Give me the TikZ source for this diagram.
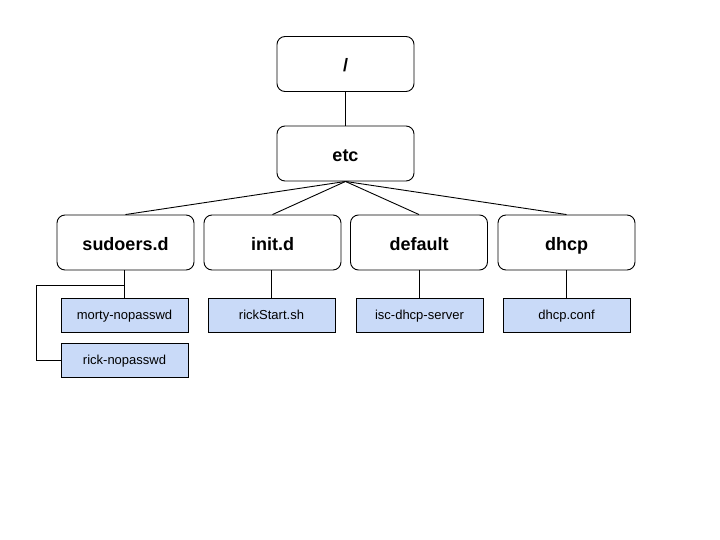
\documentclass[tikz,border=0pt]{standalone}
\usepackage{fontspec}
\setmainfont{Liberation Sans}
\definecolor{leafblue}{HTML}{C9DAF8}
\begin{document}
\begin{tikzpicture}[x=1pt,y=-1pt,
  dirbox/.style={draw=black,line width=0.9pt,rounded corners=8pt,fill=white,minimum width=137pt,minimum height=55pt,inner sep=0pt,text height=16pt,text depth=0.5pt,font=\fontsize{18}{20}\selectfont\bfseries},
  filebox/.style={draw=black,line width=0.9pt,fill=leafblue,minimum width=127pt,minimum height=34pt,inner sep=0pt,text height=10pt,text depth=2pt,font=\fontsize{13}{15}\selectfont},
  link/.style={draw=black,line width=0.9pt}]
\useasboundingbox (0,0) rectangle (720,540);
\node[dirbox] (root) at (345.5,64) {/};
\node[dirbox] (etc) at (345.5,153.5) {etc};
\node[dirbox] (sud) at (125.5,242.5) {sudoers.d};
\node[dirbox] (init) at (272.5,242.5) {init.d};
\node[dirbox] (def) at (419,242.5) {default};
\node[dirbox] (dhcp) at (566.5,242.5) {dhcp};
\node[filebox] (morty) at (124.5,315) {morty-nopasswd};
\node[filebox] (rick) at (124.5,360) {rick-nopasswd};
\node[filebox] (rs) at (271.5,315) {rickStart.sh};
\node[filebox] (isc) at (419.5,315) {isc-dhcp-server};
\node[filebox] (conf) at (566.5,315) {dhcp.conf};
\coordinate (j) at (124.5,285.5);
\coordinate (l) at (36,285.5);
\draw[link] (root) -- (etc);
\draw[link] (etc.south) -- (sud.north);
\draw[link] (etc.south) -- (init.north);
\draw[link] (etc.south) -- (def.north);
\draw[link] (etc.south) -- (dhcp.north);
\draw[link] (sud.south -| j) -- (j) -- (morty.north);
\draw[link] (j) -- (l) |- (rick.west);
\draw[link] (init.south -| rs) -- (rs.north);
\draw[link] (def.south -| isc) -- (isc.north);
\draw[link] (dhcp) -- (conf);
\end{tikzpicture}
\end{document}
